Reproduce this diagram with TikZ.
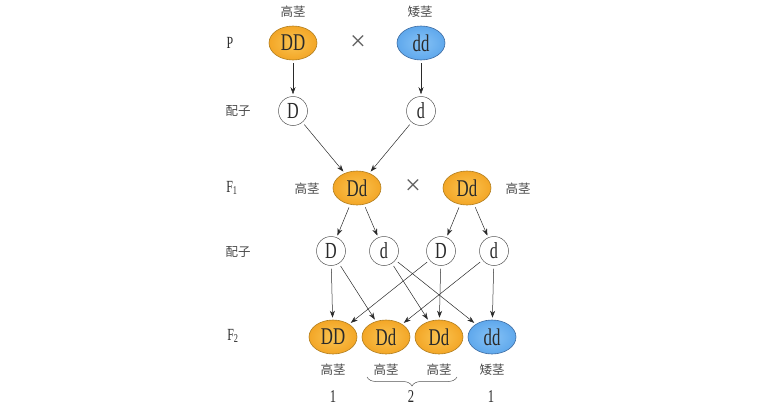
\documentclass[tikz,border=0pt]{standalone}
\usepackage{fontspec}
\setmainfont{Liberation Serif}
\newfontfamily\cjk{Noto Sans CJK SC}
\newfontfamily\narrow[FakeStretch=0.7]{Liberation Serif}
\usetikzlibrary{arrows.meta,shapes.geometric,decorations.pathreplacing}
\definecolor{tallin}{HTML}{FAC452}
\definecolor{tallout}{HTML}{F3A626}
\definecolor{tallline}{HTML}{B07D1E}
\definecolor{dwarfin}{HTML}{86C2F6}
\definecolor{dwarfout}{HTML}{5FA8EC}
\definecolor{dwarfline}{HTML}{3C6AA0}
\definecolor{ink}{HTML}{2A2A2A}

\begin{document}
\begin{tikzpicture}[%
x=1pt, y=-1pt,
geno/.style={ellipse, minimum width=48pt, minimum height=34pt, inner sep=0pt,
  line width=0.6pt, text=ink, font=\narrow\fontsize{24}{24}\selectfont},
tall/.style={geno, shade, inner color=tallin, outer color=tallout, draw=tallline},
dwarf/.style={geno, shade, inner color=dwarfin, outer color=dwarfout, draw=dwarfline},
gamete/.style={circle, draw=ink!80, fill=white, minimum size=29pt, inner sep=0pt,
  line width=0.5pt, text=ink, font=\narrow\fontsize{23}{23}\selectfont},
trait/.style={text=ink!85, font=\cjk\fontsize{12.5}{12.5}\selectfont},
gen/.style={text=ink, font=\narrow\fontsize{17}{17}\selectfont},
cnt/.style={text=ink, font=\narrow\fontsize{18}{18}\selectfont},
crossmark/.style={text=ink!75, font=\fontsize{28}{28}\selectfont},
arr/.style={draw=ink, line width=0.5pt, -{Stealth[length=7pt,width=5pt]},
  shorten <=3pt, shorten >=2pt},
]
\useasboundingbox (0,0) rectangle (765,407);
%% row labels;
\node[gen] (lP) at (230,43) {P};
\node[trait] (lG1) at (238,111) {配子};
\node[gen] (lF1) at (232,188) {F\textsubscript{1}};
\node[trait] (lG2) at (238,252) {配子};
\node[gen] (lF2) at (233,336) {F\textsubscript{2}};
%% parents;
\node[tall] (pD) at (293,43) {DD};
\node[crossmark] (x1) at (358,43) {×};
\node[dwarf] (pd) at (421,43) {dd};
\node[trait] (tpD) at (293,12) {高茎};
\node[trait] (tpd) at (420,12) {矮茎};
%% gametes of P;
\node[gamete] (gD) at (293,111) {D};
\node[gamete] (gd) at (421,111) {d};
%% F1;
\node[tall] (fa) at (357,188) {Dd};
\node[crossmark] (x2) at (413,187) {×};
\node[tall] (fb) at (467,188) {Dd};
\node[trait] (tfa) at (307,189) {高茎};
\node[trait] (tfb) at (518,189) {高茎};
%% gametes of F1;
\node[gamete] (aD) at (331,251) {D};
\node[gamete] (ad) at (384,251) {d};
\node[gamete] (bD) at (441,251) {D};
\node[gamete] (bd) at (494,251) {d};
%% F2;
\node[tall] (sDD) at (333,337) {DD};
\node[tall] (sDa) at (386,337) {Dd};
\node[tall] (sDb) at (439,337) {Dd};
\node[dwarf] (sdd) at (492,337) {dd};
\node[trait] (tDD) at (333,370) {高茎};
\node[trait] (tDa) at (386,370) {高茎};
\node[trait] (tDb) at (439,370) {高茎};
\node[trait] (tdd) at (492,370) {矮茎};
%% ratio;
\coordinate (bl) at (367,377);
\coordinate (br) at (457,377);
\draw[ink!80, line width=0.5pt, decorate, decoration={brace, mirror, amplitude=9pt}] (bl) -- (br);
\node[cnt] (n1) at (333,397) {1};
\node[cnt] (n2) at (411,397) {2};
\node[cnt] (n3) at (491,397) {1};
%% arrows;
\draw[arr] (pD) -- (gD);
\draw[arr] (pd) -- (gd);
\draw[arr] (gD) -- (fa);
\draw[arr] (gd) -- (fa);
\draw[arr] (fa) -- (aD);
\draw[arr] (fa) -- (ad);
\draw[arr] (fb) -- (bD);
\draw[arr] (fb) -- (bd);
\draw[arr] (aD) -- (sDD);
\draw[arr] (aD) -- (sDa);
\draw[arr] (ad) -- (sDb);
\draw[arr] (ad) -- (sdd);
\draw[arr] (bD) -- (sDD);
\draw[arr] (bD) -- (sDb);
\draw[arr] (bd) -- (sDa);
\draw[arr] (bd) -- (sdd);
\end{tikzpicture}
\end{document}
